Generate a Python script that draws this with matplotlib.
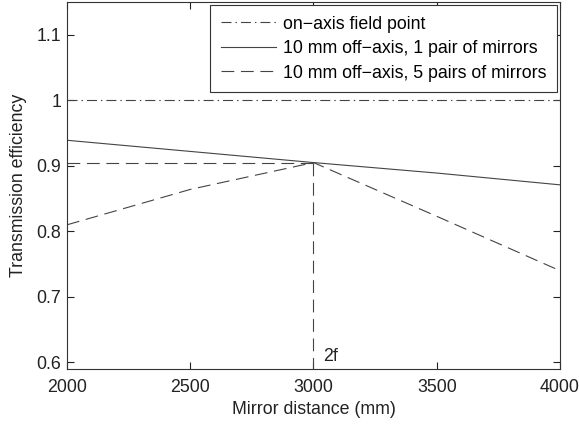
import matplotlib
matplotlib.use('Agg')
import matplotlib.pyplot as plt

plt.rcParams['font.family'] = ['Liberation Sans', 'DejaVu Sans']

# mirror distance (mm)
dist = [2000, 2500, 3000, 3500, 4000]
on_axis = [1.0, 1.0, 1.0, 1.0, 1.0]
one_pair = [0.939, 0.922, 0.905, 0.889, 0.871]
five_pairs = [0.810, 0.864, 0.905, 0.823, 0.740]

# 2f marker
x_2f = 3000
y_2f = 0.905

fig = plt.figure(figsize=(5.79, 4.24), dpi=100)
ax = fig.add_axes([0.1157, 0.1297, 0.8515, 0.8656])

c = '#444444'
fs = 12.8
ax.plot(dist, on_axis, color=c, lw=0.8, dashes=(9, 3.6, 1.3, 3.6), label='on\u2212axis field point')
ax.plot(dist, one_pair, color=c, lw=0.8, label='10 mm off\u2212axis, 1 pair of mirrors')
ax.plot(dist, five_pairs, color=c, lw=0.8, dashes=(11.5, 6), label='10 mm off\u2212axis, 5 pairs of mirrors')

# guide lines at 2f
ax.plot([2000, x_2f], [y_2f, y_2f], color=c, lw=0.8, dashes=(11.5, 6))
ax.plot([x_2f, x_2f], [y_2f, 0.59], color=c, lw=0.8, dashes=(11.5, 6))
ax.text(3040, 0.609, '2f', fontsize=fs, color='#222222', va='center')

ax.set_xlim(2000, 4000)
ax.set_ylim(0.59, 1.15)
ax.set_xticks([2000, 2500, 3000, 3500, 4000])
ax.set_yticks([0.6, 0.7, 0.8, 0.9, 1.0, 1.1])
ax.set_yticklabels(['0.6', '0.7', '0.8', '0.9', '1', '1.1'])
ax.tick_params(direction='in', top=True, right=True, labelsize=fs, length=5, width=0.8, colors='#222222')
ax.tick_params(axis='x', pad=7.5)
ax.tick_params(axis='y', pad=4)
for s in ax.spines.values():
    s.set_linewidth(0.8)
    s.set_color('#333333')

ax.set_xlabel('Mirror distance (mm)', fontsize=fs, color='#222222', labelpad=3)
ax.set_ylabel('Transmission efficiency', fontsize=fs, color='#222222', labelpad=7)

leg = ax.legend(loc='upper right', fontsize=fs, fancybox=False, framealpha=1,
                edgecolor='#333333', handlelength=3.1, handletextpad=0.4,
                borderpad=0.6, borderaxespad=0.17, labelspacing=0.42)
leg.get_frame().set_linewidth(0.8)

fig.savefig('out.png', dpi=100)
